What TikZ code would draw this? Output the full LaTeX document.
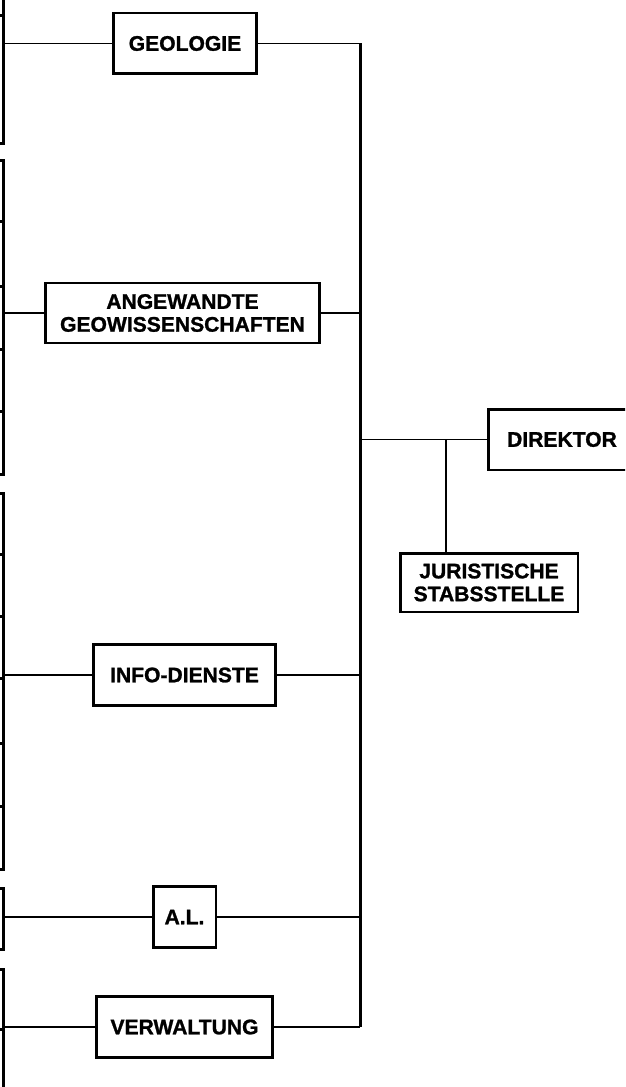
\documentclass[tikz,border=0pt]{standalone}
\usepackage{fontspec}
\usepackage{tikz}
\usetikzlibrary{
  positioning,
  calc
}
\newfontfamily\orgfont{Liberation Sans}[BoldFeatures={FakeBold=1.2}]
\tikzset{
  orgnode/.style={
    draw, line width=1.7pt, inner sep=0pt, minimum height=1.22cm,
    align=center, font=\orgfont\bfseries\fontsize{12}{13}\selectfont
  },
  stub/.style={draw, line width=1.5pt, inner sep=0pt, minimum width=2cm, anchor=north east},
  link/.style={line width=0.8pt},
  trunk/.style={line width=1.7pt}
}

\begin{document}
\begin{tikzpicture}[x=0.02cm, y=-0.02cm]
  \useasboundingbox (0,0) rectangle (625,1087);
  \clip (0,0) rectangle (625,1087);
  % departments
  \node[orgnode, minimum width=2.88cm] (geo) at (185,43.5) {GEOLOGIE};
  \node[orgnode, minimum width=5.5cm, minimum height=1.2cm] (ang) at (182.5,313) {ANGEWANDTE\\GEOWISSENSCHAFTEN};
  \node[orgnode, minimum width=3.66cm] (info) at (184.5,675) {INFO-DIENSTE};
  \node[orgnode, minimum width=1.26cm] (al) at (184.5,917) {A.L.};
  \node[orgnode, minimum width=3.54cm] (verw) at (184.5,1027) {VERWALTUNG};
  \node[orgnode, minimum width=2.96cm] (dir) at (562,439.5) {DIREKTOR};
  \node[orgnode, minimum width=3.56cm, minimum height=1.18cm] (jur) at (489,582.5) {JURISTISCHE\\STABSSTELLE};
  % cut-off boxes along the left edge
  \foreach \id/\ya/\yb in {a1/-60/14, a2/14/142,
      b1/159/220, b2/220/285, b3/285/348, b4/348/410, b5/410/473,
      c1/492/553, c2/553/615, c3/615/677, c4/677/742, c5/742/805, c6/805/868,
      d1/887/948, e1/968/1028, e2/1028/1100}
    \node[stub, minimum height={(\yb-\ya)*0.02cm}] (\id) at (4.5,\ya) {};
  % trunk
  \coordinate (ttop) at (360,43.5);
  \draw[trunk] (ttop) -- (ttop |- verw.east);
  \draw[link] (geo.east) -- (geo.east -| ttop);
  \draw[link] (ang.east) -- (ang.east -| ttop);
  \draw[link] (info.east) -- (info.east -| ttop);
  \draw[link] (al.east) -- (al.east -| ttop);
  \draw[link] (verw.east) -- (verw.east -| ttop);
  \draw[link] (dir.west) -- (dir.west -| ttop);
  \coordinate (jx) at (dir.west -| 446,0);
  \draw[link, line width=1.1pt] (jx) -- (jx |- jur.north);
  % to the left
  \draw[link] (geo.west) -- (geo.west -| a2.east);
  \draw[link] (ang.west) -- (ang.west -| b3.east);
  \draw[link] (info.west) -- (info.west -| c3.east);
  \draw[link] (al.west) -- (al.west -| d1.east);
  \draw[link] (verw.west) -- (verw.west -| e1.east);
\end{tikzpicture}
\end{document}
